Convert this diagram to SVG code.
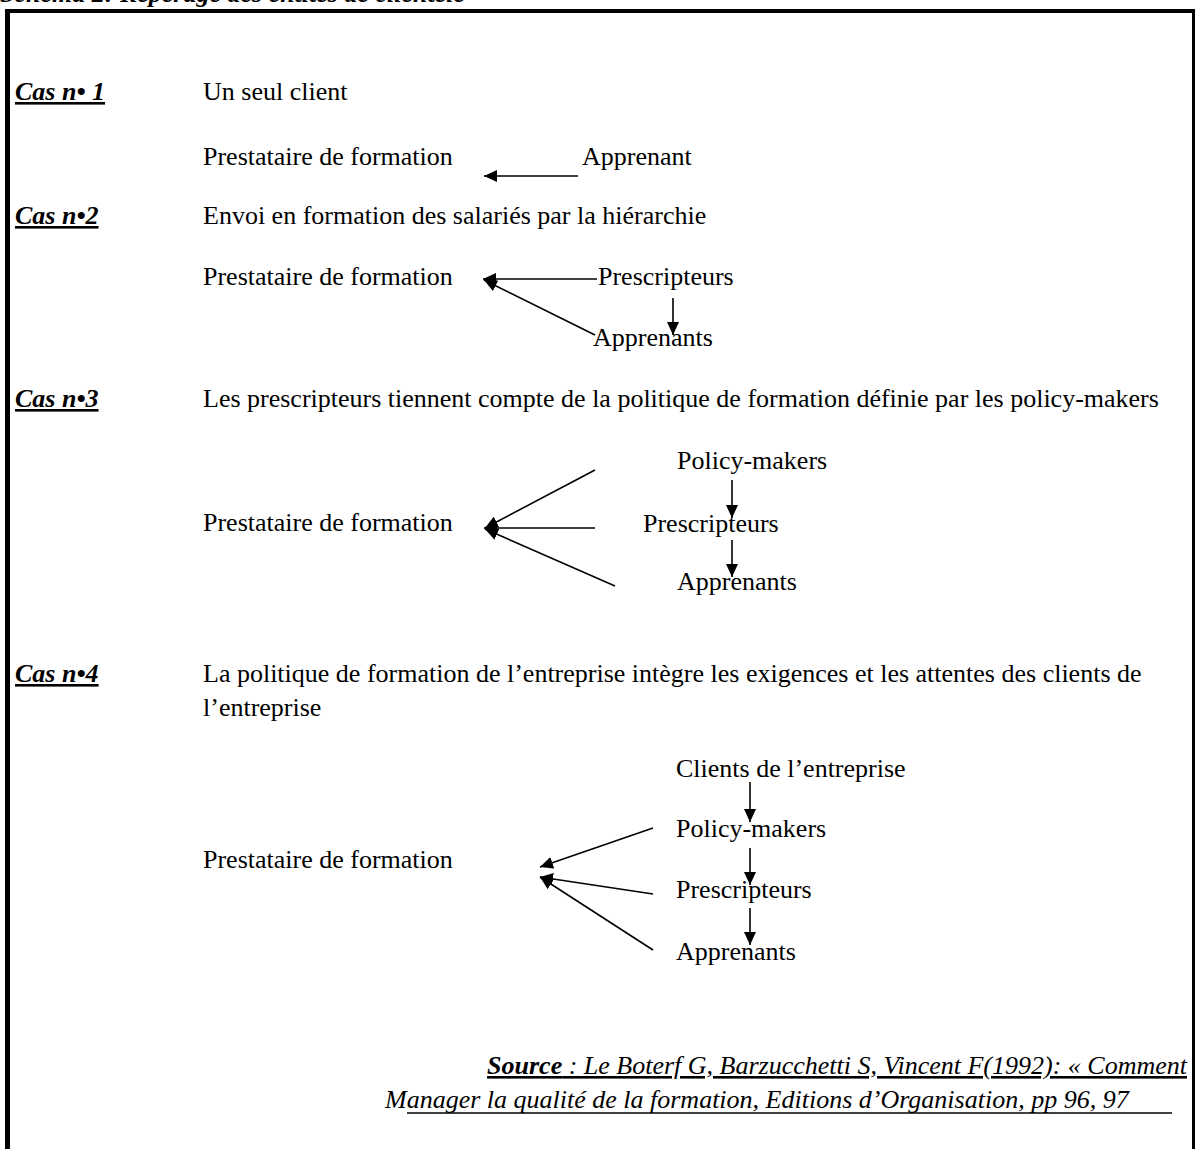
<svg xmlns="http://www.w3.org/2000/svg" width="1196" height="1149" viewBox="0 0 1196 1149">
<style>
text{font-family:"Liberation Serif","Times New Roman",serif;font-size:26px;fill:#000}
.cas{font-weight:bold;font-style:italic;text-decoration:underline}
.it{font-style:italic}
.conn line{stroke:#000;stroke-width:1.6}
.frame line{stroke:#000}
</style>
<defs>
<marker id="ah" markerUnits="userSpaceOnUse" markerWidth="14" markerHeight="12" refX="13" refY="6" orient="auto">
<path d="M0,0 L13,6 L0,12 z" fill="#000"/>
</marker>
</defs>
<rect width="1196" height="1149" fill="#fff"/>
<g id="title"><text x="0" y="2" font-weight="bold" font-style="italic">Schéma 2: Repérage des entités de clientèle</text></g>
<g class="frame">
<line x1="5" y1="11" x2="1195" y2="11" stroke-width="4"/>
<line x1="7.5" y1="9" x2="7.5" y2="1149" stroke-width="5"/>
<line x1="1193.5" y1="9" x2="1193.5" y2="1149" stroke-width="3"/>
</g>

<g id="cas1">
<text class="cas" x="15" y="100">Cas n• 1</text>
<text x="203" y="100">Un seul client</text>
</g>
<g id="c1-prestataire"><text x="203" y="165">Prestataire de formation</text></g>
<g id="c1-apprenant"><text x="582" y="165">Apprenant</text></g>

<g id="cas2">
<text class="cas" x="15" y="224">Cas n•2</text>
<text x="203" y="224">Envoi en formation des salariés par la hiérarchie</text>
</g>
<g id="c2-prestataire"><text x="203" y="285">Prestataire de formation</text></g>
<g id="c2-prescripteurs"><text x="598" y="285">Prescripteurs</text></g>
<g id="c2-apprenants"><text x="593" y="346">Apprenants</text></g>

<g id="cas3">
<text class="cas" x="15" y="407">Cas n•3</text>
<text x="203" y="407">Les prescripteurs tiennent compte de la politique de formation définie par les policy-makers</text>
</g>
<g id="c3-prestataire"><text x="203" y="531">Prestataire de formation</text></g>
<g id="c3-policy"><text x="677" y="469">Policy-makers</text></g>
<g id="c3-prescripteurs"><text x="643" y="532">Prescripteurs</text></g>
<g id="c3-apprenants"><text x="677" y="590">Apprenants</text></g>

<g id="cas4">
<text class="cas" x="15" y="682">Cas n•4</text>
<text x="203" y="682">La politique de formation de l’entreprise intègre les exigences et les attentes des clients de</text>
<text x="203" y="716">l’entreprise</text>
</g>
<g id="c4-prestataire"><text x="203" y="868">Prestataire de formation</text></g>
<g id="c4-clients"><text x="676" y="777">Clients de l’entreprise</text></g>
<g id="c4-policy"><text x="676" y="837">Policy-makers</text></g>
<g id="c4-prescripteurs"><text x="676" y="898">Prescripteurs</text></g>
<g id="c4-apprenants"><text x="676" y="960">Apprenants</text></g>

<g id="source">
<text class="it" x="1187" y="1074" text-anchor="end" text-decoration="underline"><tspan font-weight="bold">Source</tspan> : Le Boterf G, Barzucchetti S, Vincent F(1992): « Comment</text>
<text class="it" x="385" y="1108">Manager la qualité de la formation, Editions d’Organisation, pp 96, 97</text>
<line x1="407" y1="1113" x2="1172" y2="1113" stroke="#000" stroke-width="1.6"/>
</g>

<g class="conn" id="connectors">
<line x1="578" y1="176" x2="484" y2="176" marker-end="url(#ah)"/>
<line x1="597" y1="279" x2="483" y2="279" marker-end="url(#ah)"/>
<line x1="595" y1="335" x2="484" y2="280" marker-end="url(#ah)"/>
<line x1="673" y1="298" x2="673" y2="335" marker-end="url(#ah)"/>
<line x1="595" y1="470" x2="485" y2="528" marker-end="url(#ah)"/>
<line x1="595" y1="528" x2="484" y2="528" marker-end="url(#ah)"/>
<line x1="615" y1="586" x2="485" y2="529" marker-end="url(#ah)"/>
<line x1="732" y1="480" x2="732" y2="518" marker-end="url(#ah)"/>
<line x1="732" y1="540" x2="732" y2="577" marker-end="url(#ah)"/>
<line x1="750" y1="782" x2="750" y2="822" marker-end="url(#ah)"/>
<line x1="750" y1="848" x2="750" y2="885" marker-end="url(#ah)"/>
<line x1="750" y1="908" x2="750" y2="945" marker-end="url(#ah)"/>
<line x1="653" y1="828" x2="540" y2="867" marker-end="url(#ah)"/>
<line x1="653" y1="894" x2="540" y2="877" marker-end="url(#ah)"/>
<line x1="653" y1="950" x2="540" y2="877" marker-end="url(#ah)"/>
</g>
</svg>
